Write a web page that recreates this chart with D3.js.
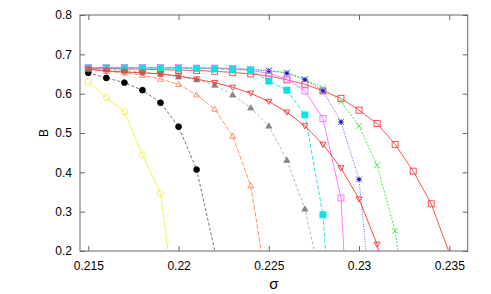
<!DOCTYPE html>
<html>
<head>
<meta charset="utf-8">
<script src="https://cdn.jsdelivr.net/npm/d3@7"></script>
<style>
  body { margin: 0; background: #fff; }
  svg { display: block; }
  .tick text { font-family: "Liberation Sans", Arial, sans-serif; font-size: 12px; fill: #000; }
  .axis-label { font-family: "Liberation Sans", Arial, sans-serif; fill: #000; }
</style>
</head>
<body>
<svg width="491" height="294"></svg>
<script>
// sigma / B values, one pair of arrays per curve
// (last point of each curve lies below B=0.2 and is clipped)
const sRedSq  = [0.215,0.216,0.217,0.218,0.219,0.220,0.221,0.222,0.223,0.224,0.225,0.226,0.227,0.228,0.229,0.230,0.231,0.232,0.233,0.234,0.2352];
const bRedSq  = [0.664,0.664,0.663,0.662,0.661,0.660,0.659,0.657,0.654,0.650,0.645,0.635,0.624,0.607,0.588,0.558,0.524,0.471,0.403,0.320,0.17];
const sGreen  = [0.215,0.216,0.217,0.218,0.219,0.220,0.221,0.222,0.223,0.224,0.225,0.226,0.227,0.228,0.229,0.230,0.231,0.232,0.2325];
const bGreen  = [0.666,0.666,0.666,0.666,0.666,0.666,0.665,0.665,0.664,0.662,0.659,0.654,0.637,0.614,0.580,0.518,0.418,0.251,0.10];
const sBlue   = [0.215,0.216,0.217,0.218,0.219,0.220,0.221,0.222,0.223,0.224,0.225,0.226,0.227,0.228,0.229,0.230,0.2306];
const bBlue   = [0.666,0.666,0.666,0.666,0.666,0.666,0.665,0.665,0.663,0.662,0.658,0.652,0.636,0.607,0.528,0.382,0.10];
const sMag    = [0.215,0.216,0.217,0.218,0.219,0.220,0.221,0.222,0.223,0.224,0.225,0.226,0.227,0.228,0.229,0.2293];
const bMag    = [0.666,0.666,0.666,0.666,0.666,0.666,0.665,0.665,0.664,0.659,0.652,0.637,0.607,0.537,0.335,0.08];
const sCyan   = [0.215,0.216,0.217,0.218,0.219,0.220,0.221,0.222,0.223,0.224,0.225,0.226,0.227,0.228,0.2283];
const bCyan   = [0.665,0.665,0.665,0.665,0.665,0.664,0.664,0.663,0.661,0.660,0.632,0.609,0.546,0.292,0.10];
const sYellow = [0.215,0.216,0.217,0.218,0.219,0.2197];
const bYellow = [0.630,0.590,0.554,0.444,0.347,0.10];
const sBlack  = [0.215,0.216,0.217,0.218,0.219,0.220,0.221,0.2225];
const bBlack  = [0.653,0.640,0.628,0.609,0.577,0.516,0.407,0.10];
const sOrange = [0.215,0.216,0.217,0.218,0.219,0.220,0.221,0.222,0.223,0.224,0.225];
const bOrange = [0.663,0.657,0.653,0.647,0.637,0.624,0.597,0.561,0.492,0.366,0.08];
const sGray   = [0.215,0.216,0.217,0.218,0.219,0.220,0.221,0.222,0.223,0.224,0.225,0.226,0.227,0.228];
const bGray   = [0.664,0.662,0.659,0.655,0.650,0.643,0.636,0.622,0.597,0.564,0.518,0.431,0.307,0.10];
const sRedTri = [0.215,0.216,0.217,0.218,0.219,0.220,0.221,0.222,0.223,0.224,0.225,0.226,0.227,0.228,0.229,0.230,0.231,0.2315];
const bRedTri = [0.662,0.658,0.655,0.653,0.650,0.645,0.637,0.628,0.616,0.601,0.580,0.553,0.518,0.471,0.411,0.332,0.217,0.12];

const xTicks = [0.215, 0.22, 0.225, 0.23, 0.235];
const yTicks = [0.2, 0.3, 0.4, 0.5, 0.6, 0.7, 0.8];

const series = [
  {s: sRedSq,  b: bRedSq,  color: '#ff4040', dash: null,  mark: 'sqOpen'},
  {s: sGreen,  b: bGreen,  color: '#40e040', dash: '2,1.5', mark: 'cross'},
  {s: sBlue,   b: bBlue,   color: '#5050ff', dash: '1,1.5', mark: 'star'},
  {s: sMag,    b: bMag,    color: '#ff70ff', dash: null,  mark: 'sqOpen'},
  {s: sCyan,   b: bCyan,   color: '#10e0e0', dash: '4,2', mark: 'sqFill'},
  {s: sYellow, b: bYellow, color: '#f0f040', dash: null,  mark: 'circOpen'},
  {s: sBlack,  b: bBlack,  color: '#000000', dash: '3,2', mark: 'circFill', lineColor: '#666'},
  {s: sOrange, b: bOrange, color: '#ff8a60', dash: '5,1.5', mark: 'triOpen'},
  {s: sGray,   b: bGray,   color: '#888888', dash: '3,2', mark: 'triFill', lineColor: '#b0b0b0'},
  {s: sRedTri, b: bRedTri, color: '#ff3030', dash: null,  mark: 'triDown'}
];

const pLeft = 80, pRight = 467.7, pTop = 15, pBottom = 251;
const x = d3.scaleLinear().domain([0.21454, 0.23602]).range([pLeft, pRight]);
const y = d3.scaleLinear().domain([0.2, 0.8]).range([pBottom, pTop]);

const svg = d3.select('svg');

svg.append('defs').append('clipPath').attr('id', 'clip')
  .append('rect').attr('x', pLeft).attr('y', pTop)
  .attr('width', pRight - pLeft).attr('height', pBottom - pTop);

// axes, ticks pointing inwards, mirrored on top/right
svg.append('g')
  .attr('transform', `translate(0,${pBottom})`)
  .call(d3.axisBottom(x).tickValues(xTicks).tickFormat(d3.format('')).tickSizeInner(-5).tickSizeOuter(0).tickPadding(10));
svg.append('g')
  .attr('transform', `translate(0,${pTop})`)
  .call(d3.axisTop(x).tickValues(xTicks).tickFormat('').tickSizeInner(-5).tickSizeOuter(0));
svg.append('g')
  .attr('transform', `translate(${pLeft},0)`)
  .call(d3.axisLeft(y).tickValues(yTicks).tickFormat(d3.format('.1f')).tickSizeInner(-5).tickSizeOuter(0).tickPadding(8));
svg.append('g')
  .attr('transform', `translate(${pRight},0)`)
  .call(d3.axisRight(y).tickValues(yTicks).tickFormat('').tickSizeInner(-5).tickSizeOuter(0));

svg.selectAll('.domain').remove();
svg.selectAll('.tick line').attr('stroke', '#666');
svg.append('rect')
  .attr('x', pLeft).attr('y', pTop).attr('width', pRight - pLeft).attr('height', pBottom - pTop)
  .attr('fill', 'none').attr('stroke', '#666').attr('stroke-width', 1);

svg.append('text').attr('class', 'axis-label')
  .attr('transform', 'translate(48,133) rotate(-90)')
  .attr('text-anchor', 'middle').style('font-size', '12px').text('B');
svg.append('text').attr('class', 'axis-label')
  .attr('x', 274).attr('y', 289)
  .attr('text-anchor', 'middle').style('font-size', '15px').text('σ');

const plot = svg.append('g').attr('clip-path', 'url(#clip)');
const line = d3.line().x(d => x(d[0])).y(d => y(d[1]));

function drawMark(g, type, color) {
  const r = 3;
  if (type === 'sqOpen' || type === 'sqFill') {
    g.append('rect').attr('x', -r).attr('y', -r).attr('width', 2 * r).attr('height', 2 * r)
      .attr('fill', type === 'sqFill' ? color : 'none').attr('stroke', color).attr('stroke-width', 0.9);
  } else if (type === 'circOpen' || type === 'circFill') {
    g.append('circle').attr('r', type === 'circFill' ? 2.9 : 3.2)
      .attr('fill', type === 'circFill' ? color : 'none').attr('stroke', color).attr('stroke-width', 0.9);
  } else if (type === 'triOpen' || type === 'triFill') {
    g.append('path').attr('d', `M0,${-r}L${r},${r - 0.8}L${-r},${r - 0.8}Z`)
      .attr('fill', type === 'triFill' ? color : 'none').attr('stroke', color).attr('stroke-width', 0.9);
  } else if (type === 'triDown') {
    g.append('path').attr('d', `M0,${r}L${r},${-r + 0.8}L${-r},${-r + 0.8}Z`)
      .attr('fill', 'none').attr('stroke', color).attr('stroke-width', 0.9);
  } else if (type === 'cross') {
    g.append('path').attr('d', `M${-r},${-r}L${r},${r}M${-r},${r}L${r},${-r}`)
      .attr('stroke', color).attr('stroke-width', 0.9);
  } else if (type === 'star') {
    g.append('path').attr('d', `M${-r},${-r}L${r},${r}M${-r},${r}L${r},${-r}M${-r},0L${r},0M0,${-r}L0,${r}`)
      .attr('stroke', color).attr('stroke-width', 0.9);
    g.append('rect').attr('x', -1.5).attr('y', -1.5).attr('width', 3).attr('height', 3).attr('fill', '#1818b0');
  }
}

series.forEach(ser => {
  const pts = ser.s.map((s, i) => [s, ser.b[i]]);
  plot.append('path').datum(pts)
    .attr('d', line)
    .attr('fill', 'none')
    .attr('stroke', ser.lineColor || ser.color)
    .attr('stroke-width', 0.9)
    .attr('stroke-dasharray', ser.dash);
  plot.selectAll(null).data(pts).enter().append('g')
    .attr('transform', d => `translate(${x(d[0])},${y(d[1])})`)
    .each(function () { drawMark(d3.select(this), ser.mark, ser.color); });
});
</script>
</body>
</html>
